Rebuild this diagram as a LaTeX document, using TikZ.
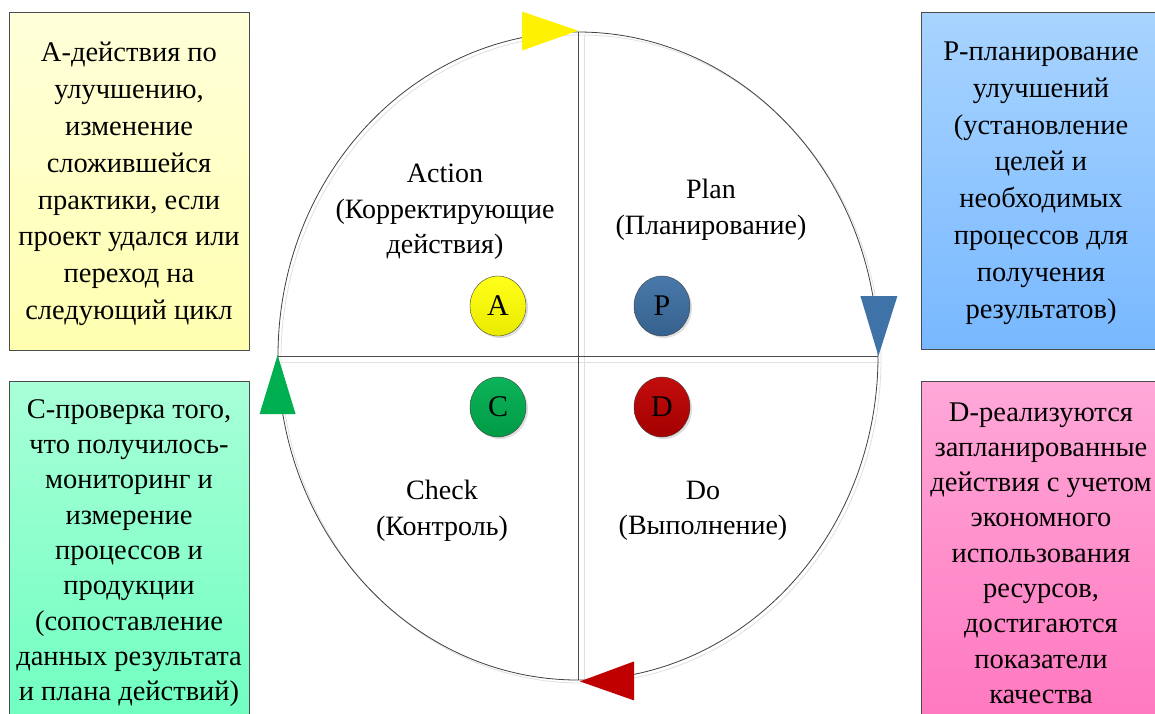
\documentclass[tikz,border=0pt]{standalone}
\usepackage{fontspec}
\setmainfont{Liberation Serif}
\usetikzlibrary{shapes.geometric,shadows}

\definecolor{acttop}{HTML}{FFFFDA}
\definecolor{actbot}{HTML}{FFFFB0}
\definecolor{plantop}{HTML}{A8D4FF}
\definecolor{planbot}{HTML}{78B8FF}
\definecolor{checktop}{HTML}{A8FFD8}
\definecolor{checkbot}{HTML}{70FFC0}
\definecolor{dotop}{HTML}{FFA8D8}
\definecolor{dobot}{HTML}{FF78C0}
\definecolor{pblue}{HTML}{3F72A6}
\definecolor{cgreen}{HTML}{00B050}
\definecolor{dred}{HTML}{C00000}

\tikzset{
	note/.style={align=center, inner sep=0pt, font=\fontsize{28.5}{36.8}\selectfont},
	lownote/.style={note, font=\fontsize{28.5}{35.3}\selectfont},
	phase/.style={align=center, inner sep=0pt, font=\fontsize{28}{35.5}\selectfont},
	letter/.style={ellipse, draw=black!75, minimum width=56pt, minimum height=60pt, inner sep=0pt,
		font=\fontsize{30}{34}\selectfont, drop shadow={shadow xshift=2pt, shadow yshift=-2pt, fill=black!25}},
	ring/.style={ellipse, draw=black!75, line width=0.8pt, minimum width=600pt, minimum height=648pt, inner sep=0pt},
	box/.style={draw=black!70, line width=0.8pt},
	ghost/.style={draw=black!12, line width=0.8pt},
}

\begin{document}
\begin{tikzpicture}[x=1pt, y=-1pt]
		\useasboundingbox (0,0) rectangle (1155,713);
		\clip (0,0) rectangle (1155,713);
		\fill[white] (0,0) rectangle (1155,713);

		\draw[box, top color=acttop, bottom color=actbot] (9,12) rectangle (249,350);
		\draw[box, top color=plantop, bottom color=planbot] (921,12) rectangle (1161,349);
		\draw[box, top color=checktop, bottom color=checkbot] (9,381) rectangle (249,720);
		\draw[box, top color=dotop, bottom color=dobot] (921,381) rectangle (1161,720);

		\draw (129,184) node [note] (anote) {A-действия по\\улучшению,\\изменение\\сложившейся\\практики, если\\проект удался или\\переход на\\следующий цикл};
		\draw (1041,183) node [note] (pnote) {P-планирование\\улучшений\\(установление\\целей и\\необходимых\\процессов для\\получения\\результатов)};
		\draw (129,553) node [lownote] (cnote) {C-проверка того,\\что получилось-\\мониторинг и\\измерение\\процессов и\\продукции\\(сопоставление\\данных результата\\и плана действий)};
		\draw (1041,553) node [lownote] (dnote) {D-реализуются\\запланированные\\действия с учетом\\экономного\\использования\\ресурсов,\\достигаются\\показатели\\качества};

		\draw (581,359) node [ring, ghost] (ringshade) {};
		\draw[ghost] ([shift={(0,3)}]ringshade.west) -- ([shift={(0,3)}]ringshade.east)
			([shift={(3,0)}]ringshade.north) -- ([shift={(3,0)}]ringshade.south);
		\draw (578,356) node [ring] (ring) {};
		\draw[black!70, line width=0.8pt] (ring.west) -- (ring.east) (ring.north) -- (ring.south);

		\fill[yellow] ([yshift=1]ring.north) -- ++(-56,-19) -- ++(0,39) -- cycle;
		\fill[pblue] (ring.east) -- ++(-18,-60) -- ++(37,0) -- cycle;
		\fill[cgreen] ([yshift=1]ring.west) -- ++(-18,59) -- ++(36,0) -- cycle;
		\fill[dred] ([xshift=2,yshift=-1]ring.south) -- ++(54,-20) -- ++(0,39) -- cycle;

		\draw (498,306) node [letter, top color=yellow!90!white, bottom color=yellow!92!black] (a) {A};
		\draw (662,306) node [letter, top color=pblue!95!white, bottom color=pblue!85!black] (p) {P};
		\draw (498,407) node [letter, top color=cgreen!95!white, bottom color=cgreen!88!black] (c) {C};
		\draw (662,407) node [letter, top color=dred!95!white, bottom color=dred!85!black] (d) {D};

		\draw (445,212) node [phase] (act) {Action\\(Корректирующие\\действия)};
		\draw (711,210) node [phase] (plan) {Plan\\(Планирование)};
		\draw (442,511) node [phase] (check) {Check\\(Контроль)};
		\draw (703,511) node [phase] (do) {Do\\(Выполнение)};
	\end{tikzpicture}
\end{document}
